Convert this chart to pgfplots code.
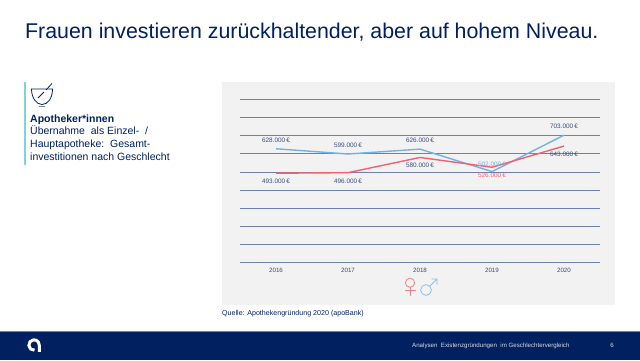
\documentclass[border=0pt]{standalone}
\usepackage{pgfplots}
\pgfplotsset{compat=1.18}
\usepackage{fontspec}
\setmainfont{Liberation Sans}
\definecolor{navy}{HTML}{002060}
\definecolor{gridc}{HTML}{6E80AE}
\definecolor{lab}{HTML}{3A4C7C}
\definecolor{bluel}{HTML}{6FB2E6}
\definecolor{redl}{HTML}{F0626F}
\definecolor{panel}{HTML}{F2F2F2}
\definecolor{tealb}{HTML}{7FD3DA}
\begin{document}
\begin{tikzpicture}
\useasboundingbox (0pt,0pt) rectangle (640pt,360pt);
\fill[white] (0pt,0pt) rectangle (640pt,360pt);
\begin{scope}[x=1pt,y=-1pt,shift={(0pt,360pt)}]
% title
\node[anchor=base west,inner sep=0pt,text=navy,font=\fontsize{21.35}{24}\selectfont] at (25,38.5) {Frauen investieren zurückhaltender, aber auf hohem Niveau.};
% left box
\fill[tealb] (24,82) rectangle (25.8,165);
\begin{scope}[draw=navy,line width=0.8pt]
\draw (31.5,89) -- (52.5,89) .. controls (52.5,98) and (48,104.5) .. (42,104.5) .. controls (36.5,104.5) and (31.5,98) .. (31.5,89) -- cycle;
\draw (38,98) -- (44,92);
\draw (46,90) -- (52,83.5);
\draw[line width=0.8pt,draw=lab!70] (39,106.5) -- (45,106.5);
\end{scope}
\node[anchor=base west,inner sep=0pt,text=navy,font=\fontsize{10.5}{12}\selectfont\bfseries] at (30,122) {Apotheker*innen};
\node[anchor=base west,inner sep=0pt,text=navy,font=\fontsize{10.5}{12}\selectfont] at (30,134.7) {Übernahme\ \ als Einzel-\ \ /};
\node[anchor=base west,inner sep=0pt,text=navy,font=\fontsize{10.5}{12}\selectfont] at (30,147.4) {Hauptapotheke:\ \ Gesamt-};
\node[anchor=base west,inner sep=0pt,text=navy,font=\fontsize{10.5}{12}\selectfont] at (30,160.1) {investitionen nach Geschlecht};
% panel
\fill[panel] (222,82) rectangle (615,305);
% gender symbols
\begin{scope}[line width=0.8pt]
\draw[redl!80] (410,282.7) circle[radius=4.6];
\draw[redl!80] (410,287.3) -- (410,295.5) (405,290.5) -- (415.5,290.5);
\draw[bluel!80] (426,290) circle[radius=5.4];
\draw[bluel!80] (429.8,286.2) -- (437,279) (431.5,279) -- (437,279) -- (437,284.5);
\end{scope}
\node[anchor=base west,inner sep=0pt,text=navy,font=\fontsize{7.1}{8}\selectfont] at (222,315) {Quelle: Apothekengründung 2020 (apoBank)};
% footer
\fill[navy] (0,331) rectangle (640,360);
\draw[gridc,line width=0.6pt] (0,331) -- (640,331);
\draw[white,line width=3pt] (34.5,350.2) arc[start angle=85,end angle=360,radius=5.2] -- (39.4,351.8);
\node[anchor=base west,inner sep=0pt,text=white!85!navy,font=\fontsize{6.15}{7}\selectfont] at (412,347.8) {Analysen\ \ Existenzgründungen\ \ im Geschlechtervergleich};
\node[anchor=base,inner sep=0pt,text=white!85!navy,font=\fontsize{6.15}{7}\selectfont] at (612,347.8) {6};
\end{scope}
% chart
\begin{axis}[
  at={(240pt,97.5pt)},anchor=south west,
  scale only axis,width=360pt,height=163pt,
  xmin=2015.5,xmax=2020.5,ymin=0,ymax=900,
  xtick={2016,2017,2018,2019,2020},
  xticklabels={2016,2017,2018,2019,2020},
  ytick={0,100,200,300,400,500,600,700,800,900},
  yticklabels={},
  ymajorgrids,
  grid style={draw=gridc,line width=0.8pt},
  axis line style={draw=none},
  major tick length=0pt,
  xticklabel style={font=\fontsize{6.2}{7}\selectfont,text=lab,yshift=-2.5pt},
  clip=false,
]
\addplot[bluel,line width=1.4pt] coordinates {(2016,628)(2017,599)(2018,626)(2019,502)(2020,703)};
\addplot[redl,line width=1.4pt] coordinates {(2016,493)(2017,496)(2018,580)(2019,526)(2020,643)};
\path[font=\fontsize{6.4}{7}\selectfont,text=lab]
  (axis cs:2016,628) node[yshift=8pt] {628.000\,€}
  (axis cs:2017,599) node[yshift=8.5pt] {599.000\,€}
  (axis cs:2018,626) node[yshift=8.5pt] {626.000\,€}
  (axis cs:2020,703) node[yshift=8.5pt] {703.000\,€}
  (axis cs:2016,493) node[yshift=-8.5pt] {493.000\,€}
  (axis cs:2017,496) node[yshift=-8.5pt] {496.000\,€}
  (axis cs:2018,580) node[yshift=-8pt] {580.000\,€}
  (axis cs:2020,643) node[yshift=-8.5pt] {643.000\,€};
\node[font=\fontsize{6.4}{7}\selectfont,text=bluel,yshift=7.5pt] at (axis cs:2019,502) {502.000\,€};
\node[font=\fontsize{6.4}{7}\selectfont,text=redl,yshift=-8pt] at (axis cs:2019,526) {526.000\,€};
\end{axis}
\end{tikzpicture}
\end{document}
